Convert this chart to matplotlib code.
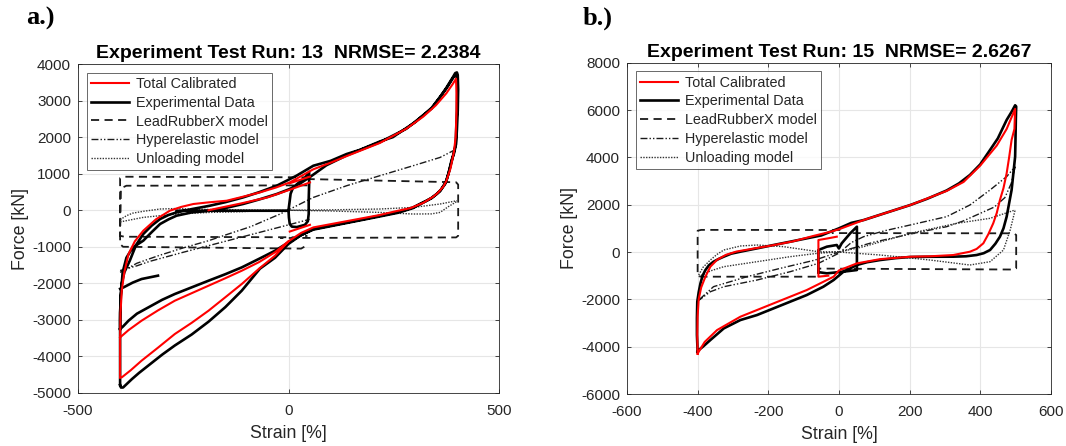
import numpy as np
import matplotlib
matplotlib.use("Agg")
import matplotlib.pyplot as plt

nan = np.nan

# ---------------- Panel a (Run 13) ----------------
a_title = "Experiment Test Run: 13  NRMSE= 2.2384"
a_xticks = [-500, 0, 500]
a_yticks = [-5000, -4000, -3000, -2000, -1000, 0, 1000, 2000, 3000, 4000]

a_exp_x = [-400, -400, -400, -399, -396, -390, -377, -362, -345, -325, -305, -285, -266, -230, -187, -150, -108, -68, -28, 19,
           59, 100, 138, 169, 217, 248, 280, 300, 320, 340, 360, 375, 391, 396, 400,
           402, 403, 402, 400, 398, 393, 387, 380, 372, 362, 352, 340, 328, 310, 296, 260, 217, 180, 138, 100, 59, 30, 0,
           -32, -68, -111, -150, -190, -230, -270, -300, -333, -355, -372, -385, -393, -398, -400,
           nan,
           -400, -400, -398, -394, -385, -370, -345, -325, -305, -285, -266, -230, -187, -150, -108, -68, -28, 3, 30, 50,
           90, 138, 217, 280, 340, 375, 392, 399,
           401, 400, 397, 388, 375, 360, 340, 320, 296, 260, 217, 138, 59, 30, 0, -32, -70, -111, -150, -190, -230, -270,
           -300, -333, -360, -380, -393, -400,
           nan,
           -400, -392, -370, -349, -310,
           nan,
           0, 1, 3, 8, 20, 39, 46, 48, 48, 49, 49, 40, 25, 11, 5, 3, 0,
           nan,
           -266, 0]
a_exp_y = [-4780, -4000, -3000, -2400, -2000, -1700, -1381, -950, -651, -420, -241, -130, -60, 30, 123, 220, 350, 500, 670, 944,
           1217, 1350, 1537, 1649, 1880, 2000, 2250, 2400, 2600, 2800, 3100, 3350, 3650, 3750, 3770,
           3700, 3300, 2721, 2200, 1810, 1550, 1354, 1000, 716, 560, 443, 340, 260, 160, 77, -50, -150, -240, -334, -420, -514, -680, -920,
           -1300, -1600, -2200, -2650, -3050, -3400, -3700, -3950, -4250, -4450, -4620, -4760, -4850, -4850, -4780,
           nan,
           -3250, -2800, -2300, -1700, -1300, -1020, -834, -600, -377, -250, -150, -60, -14, 60, 170, 300, 443, 580, 750, 900,
           1230, 1500, 1860, 2230, 2780, 3330, 3640, 3720,
           3400, 2700, 1800, 1350, 800, 520, 330, 210, 60, -70, -170, -350, -530, -680, -880, -1108, -1330, -1564, -1750, -1928,
           -2110, -2292, -2450, -2658, -2830, -3022, -3180, -3250,
           nan,
           -2150, -2111, -1980, -1882, -1790,
           nan,
           0, -200, -377, -450, -460, -400, -300, -100, 300, 700, 1050, 900, 760, 624, 450, 260, 0,
           nan,
           -14, -14]

a_cal_x = [-400, -400, -400, -399, -396, -390, -380, -365, -345, -315, -282, -255, -226, -190, -147, -108, -68, -30, 3, 59,
           100, 138, 217, 280, 320, 350, 375, 390, 398,
           399, 399, 397, 393, 385, 375, 368, 355, 345, 320, 290, 250, 217, 138, 59, 30, 0, -32, -70, -111, -150, -190, -230,
           -270, -310, -349, -375, -396, -400,
           nan,
           0, -32, -70, -111, -150, -190, -230, -270, -310, -349, -380, -400,
           nan,
           -190, -115, -50, 3, 51,
           nan,
           3, 51, nan, 3, 51]
a_cal_y = [-4572, -4000, -3480, -2800, -2200, -1700, -1200, -850, -561, -250, -14, 90, 170, 215, 260, 370, 487, 620, 760, 1120,
           1300, 1480, 1840, 2230, 2560, 2870, 3200, 3450, 3600,
           3200, 2700, 2000, 1600, 1150, 800, 650, 480, 380, 200, 60, -40, -130, -300, -470, -620, -850, -1244, -1600, -2018,
           -2380, -2749, -3080, -3386, -3760, -4116, -4380, -4572, -4572,
           nan,
           -850, -1150, -1420, -1655, -1860, -2065, -2270, -2475, -2740, -3022, -3280, -3479,
           nan,
           0, 180, 350, 560, 760,
           nan,
           738, 920, nan, -583, -400]

a_lrx_x = [45, -385, -398, -400, -390, 20, 45,
           nan,
           50, -390, -400, -400, -393, 30, 45,
           nan,
           43, 398, 403, 403, 398, -20]
a_lrx_y = [680, 670, 600, -700, -725, -740, -700,
           nan,
           900, 916, 880, -925, -1000, -1050, -950,
           nan,
           853, 765, 700, -700, -744, -760]

a_hyp_x = [-400, -360, -309, -250, -190, -140, -90, -20, 59, 138, 217, 296, 360, 399,
           nan,
           -400, -360, -330, -250, -150, -50, 50]
a_hyp_y = [-1700, -1450, -1244, -1030, -834, -640, -450, -104, 350, 670, 944, 1217, 1444, 1674,
           nan,
           -1650, -1520, -1400, -1150, -850, -550, -250]

a_unl_x = [-400, -385, -370, -345, -305, -270, -190, -100, 0, 100, 217, 296, 360, 400,
           nan,
           -400, -345, -266, -187, -111, -68, 0, 100, 217, 296, 340, 360, 380, 400]
a_unl_y = [-260, -150, -80, -30, 33, 45, 20, 5, 0, 10, 33, 77, 170, 260,
           nan,
           -320, -196, -104, -60, -40, -14, 0, -20, -60, -104, -100, -60, 100, 240]

# ---------------- Panel b (Run 15) ----------------
b_title = "Experiment Test Run: 15  NRMSE= 2.6267"
b_xticks = [-600, -400, -200, 0, 200, 400, 600]
b_yticks = [-6000, -4000, -2000, 0, 2000, 4000, 6000, 8000]

b_exp_x = [-400, -402, -402, -401, -397, -392, -386, -378, -368, -355, -340, -326, -305, -279, -230, -185, -140, -91, -50, -25,
           0, 35, 70, 130, 202, 250, 305, 340, 371, 400, 428, 450, 475, 490, 499, 502,
           501, 500, 499, 494, 489, 480, 475, 466, 456, 443, 428, 410, 390, 360, 324, 260, 202, 160, 117, 80, 51, 13, -15,
           -44, -91, -138, -185, -232, -279, -326, -364, -385, -397, -400,
           nan,
           -58, -58, -34, -6, 0, 8, 32, 51, 51, 30, 0, -34, -58]
b_exp_y = [-4210, -3500, -2800, -2100, -1700, -1325, -1000, -761, -560, -409, -290, -197, -70, 14, 160, 296, 430, 578, 700, 850,
           1000, 1230, 1350, 1640, 1985, 2250, 2600, 2900, 3256, 3700, 4313, 4800, 5581, 5950, 6200, 6150,
           5600, 4731, 4030, 3323, 2622, 1900, 1494, 1000, 648, 350, 85, -50, -127, -180, -197, -200, -210, -260, -338, -430, -549, -832, -1184,
           -1466, -1818, -2100, -2382, -2664, -2875, -3228, -3720, -4000, -4144, -4210,
           nan,
           -850, 85, 226, 296, 150, 368, 790, 1070, -761, -800, -850, -901, -850]

b_cal_x = [-400, -401, -400, -397, -390, -378, -364, -345, -320, -290, -240, -185, -130, -72, -25, 0, 70, 202, 305, 353,
           400, 447, 475, 499,
           497, 489, 482, 475, 466, 456, 447, 437, 423, 409, 390, 371, 324, 260, 202, 117, 51, 0, -15, -91, -185, -279, -345,
           -380, -397, -400,
           nan,
           -30, -58, -58, -30, -6]
b_cal_y = [-4300, -3500, -2700, -2000, -1500, -1043, -620, -330, -120, 20, 150, 290, 450, 680, 850, 960, 1350, 1985, 2580, 2960,
           3650, 4500, 5200, 6050,
           5200, 4736, 4000, 3327, 2700, 2199, 1650, 1213, 750, 368, 130, 13, -127, -180, -200, -300, -480, -780, -1043, -1607,
           -2170, -2734, -3298, -3800, -4215, -4300,
           nan,
           -1000, -1043, 507, 580, 648]

b_lrx_x = [4, -390, -400, -400, -390, -58, -58, 495, 502, 502, 495, -20]
b_lrx_y = [930, 935, 900, -1000, -1043, -1043, -700, -740, -690, 720, 790, 800]

b_hyp_x = [-402, -364, -326, -232, -138, -58, 0, 35, 70, 130, 202, 305, 371, 428, 475, 499,
           nan,
           499, 488, 470, 440, 400, 350, 305, 211, 100, 0, -70, -166, -260, -355, -402]
b_hyp_y = [-2100, -1678, -1466, -1184, -832, -479, -50, 400, 648, 900, 1142, 1494, 1987, 2622, 3186, 3608,
           nan,
           3608, 2900, 2300, 1900, 1633, 1300, 1070, 788, 420, 0, -350, -690, -1042, -1464, -2100]

b_unl_x = [-397, -385, -364, -345, -326, -279, -232, -157, -58, 0, 70, 202, 334, 428, 499,
           nan,
           -397, -364, -326, -232, -138, -58, 0, 117, 258, 371, 428, 466, 485, 499]
b_unl_y = [-972, -650, -338, -100, 85, 254, 296, 226, 14, 0, 226, 789, 1213, 1424, 1776,
           nan,
           -1043, -800, -620, -409, -197, -50, 0, -127, -338, -550, -409, 85, 930, 1776]

legend_labels = ["Total Calibrated", "Experimental Data", "LeadRubberX model",
                 "Hyperelastic model", "Unloading model"]

# ---------------- Drawing ----------------
plt.rcParams['font.family'] = ['Liberation Sans', 'DejaVu Sans']
plt.rcParams['axes.unicode_minus'] = False
axcol = '#262626'

fig = plt.figure(figsize=(10.66, 4.46), dpi=100)
ax_a = fig.add_axes([78/1066, 1 - 393/446, (499-78)/1066, (393-64)/446])
ax_b = fig.add_axes([627/1066, 1 - 394/446, (1050.8-627)/1066, (394-62.7)/446])


def draw(ax, data, xlim, ylim, xt, yt, title):
    ex, ey, cx, cy, lx, ly, hx, hy, ux, uy = data
    ax.plot(lx, ly, color='#1a1a1a', lw=1.3, ls=(0, (4.5, 3)), label=legend_labels[2], zorder=2)
    ax.plot(hx, hy, color='#1a1a1a', lw=1.0, ls=(0, (5, 1.5, 1, 1.5, 1, 1.5)), label=legend_labels[3], zorder=2)
    ax.plot(ux, uy, color='#333333', lw=1.0, ls=(0, (1, 1)), label=legend_labels[4], zorder=2)
    ax.plot(ex, ey, color='black', lw=1.9, label=legend_labels[1], zorder=3, solid_joinstyle='round')
    ax.plot(cx, cy, color='#ff0000', lw=1.5, label=legend_labels[0], zorder=4, solid_joinstyle='round')
    ax.set_xlim(xlim)
    ax.set_ylim(ylim)
    ax.set_xticks(xt)
    ax.set_yticks(yt)
    ax.grid(True, color='#e6e6e6', lw=0.8)
    ax.set_axisbelow(True)
    ax.tick_params(direction='in', length=3, top=True, right=True, colors=axcol,
                   labelsize=11, labelcolor=axcol, width=0.6)
    ax.tick_params(axis='x', pad=8)
    ax.tick_params(axis='y', pad=5)
    for s in ax.spines.values():
        s.set_color('#262626')
        s.set_linewidth(0.6)
    ax.set_xlabel("Strain [%]", fontsize=12.8, color=axcol, labelpad=5)
    ax.set_ylabel("Force [kN]", fontsize=12.8, color=axcol, labelpad=2)
    ax.set_title(title, fontsize=14, fontweight='bold', color='black', pad=4)
    h, l = ax.get_legend_handles_labels()
    order = [4, 3, 0, 1, 2]
    leg = ax.legend([h[i] for i in order], [l[i] for i in order], loc='upper left',
                    fontsize=10.4, frameon=True, fancybox=False, handlelength=2.6,
                    borderpad=0.3, labelspacing=0.33, handletextpad=0.5,
                    borderaxespad=0.6, edgecolor='#262626')
    leg.get_frame().set_linewidth(0.6)
    for t in leg.get_texts():
        t.set_color(axcol)


draw(ax_a, (a_exp_x, a_exp_y, a_cal_x, a_cal_y, a_lrx_x, a_lrx_y, a_hyp_x, a_hyp_y, a_unl_x, a_unl_y),
     (-500, 500), (-5000, 4000), a_xticks, a_yticks, a_title)
draw(ax_b, (b_exp_x, b_exp_y, b_cal_x, b_cal_y, b_lrx_x, b_lrx_y, b_hyp_x, b_hyp_y, b_unl_x, b_unl_y),
     (-600, 600), (-6000, 8000), b_xticks, b_yticks, b_title)

fig.text(26/1066, 1 - 18/446, "a.)", fontsize=19, fontweight='bold',
         family=['Liberation Serif', 'DejaVu Serif'], va='center', ha='left')
fig.text(583/1066, 1 - 18/446, "b.)", fontsize=19, fontweight='bold',
         family=['Liberation Serif', 'DejaVu Serif'], va='center', ha='left')

fig.savefig("out.png", dpi=100)
